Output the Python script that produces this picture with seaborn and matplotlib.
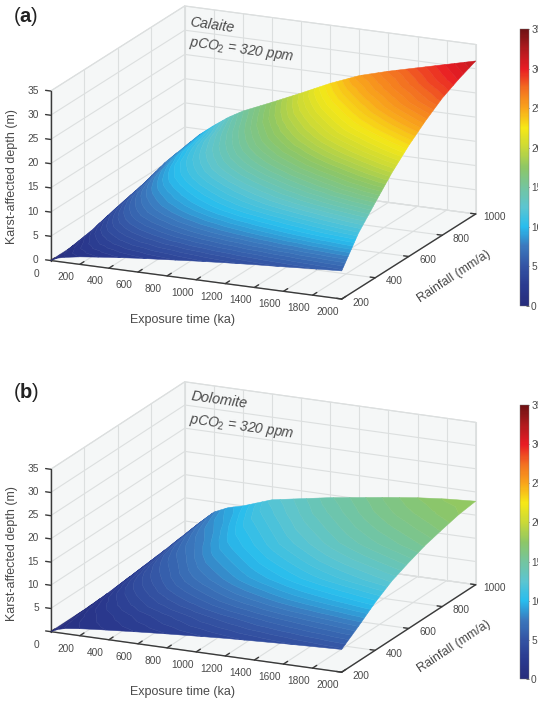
import matplotlib
matplotlib.use('Agg')
import numpy as np
import matplotlib.pyplot as plt
import matplotlib.tri as mtri
import seaborn as sns
from matplotlib.cm import ScalarMappable
from matplotlib.colors import Normalize
from mpl_toolkits.mplot3d import proj3d
from mpl_toolkits.mplot3d.art3d import Poly3DCollection

# axes values
exposure = [0, 50, 100, 200, 300, 400, 600, 800, 1000, 1200, 1400, 1600, 1800, 2000]
rainfall = [200, 300, 400, 500, 600, 700, 800, 900, 1000]
x_ticks = [0, 200, 400, 600, 800, 1000, 1200, 1400, 1600, 1800, 2000]
y_ticks = [200, 400, 600, 800, 1000]
z_ticks = [0, 5, 10, 15, 20, 25, 30, 35]
cbar_ticks = [0, 5, 10, 15, 20, 25, 30, 35]

# karst-affected depth, one row per rainfall value
calcite_depth = [
    [0, 0.7, 1.05, 1.55, 1.9, 2.25, 2.85, 3.35, 3.85, 4.3, 4.7, 5.05, 5.45, 5.8],
    [0, 1.2, 1.9, 3.0, 3.8, 4.5, 5.6, 6.6, 7.5, 8.3, 9.1, 9.9, 10.7, 11.4],
    [0, 2.0, 3.1, 4.6, 5.7, 6.6, 8.0, 9.3, 10.5, 11.6, 12.6, 13.6, 14.6, 15.5],
    [0, 3.0, 4.3, 6.0, 7.3, 8.3, 10.0, 11.5, 12.9, 14.2, 15.5, 16.8, 18.2, 19.5],
    [0, 3.9, 5.3, 7.4, 8.9, 10.1, 12.0, 13.7, 15.3, 16.8, 18.4, 19.9, 21.4, 22.9],
    [0, 4.7, 6.3, 8.7, 10.3, 11.5, 13.6, 15.6, 17.4, 19.2, 21.0, 22.6, 24.2, 25.8],
    [0, 5.6, 7.6, 9.8, 11.3, 12.6, 15.0, 17.2, 19.3, 21.3, 23.2, 25.0, 26.7, 28.3],
    [0, 6.0, 8.2, 10.4, 12.1, 13.7, 16.3, 18.8, 21.2, 23.4, 25.3, 27.0, 28.6, 30.1],
    [0, 6.5, 8.8, 11.1, 13.2, 14.9, 17.5, 20.2, 23.0, 25.4, 27.1, 28.6, 30.1, 31.6],
]
dolomite_depth = [
    [0, 0.7, 1.1, 1.5, 1.8, 2.05, 2.55, 3.0, 3.4, 3.8, 4.1, 4.4, 4.65, 4.9],
    [0, 0.9, 1.4, 2.0, 2.45, 2.85, 3.6, 4.31, 5.03, 5.61, 6.19, 6.64, 7.07, 7.5],
    [0, 1.15, 1.9, 2.83, 3.51, 4.1, 5.19, 6.14, 7.09, 7.85, 8.6, 9.19, 9.74, 10.3],
    [0, 1.54, 2.51, 3.79, 4.64, 5.33, 6.7, 7.8, 8.88, 9.77, 10.63, 11.33, 11.97, 12.6],
    [0, 1.89, 3.04, 4.64, 5.62, 6.36, 7.95, 9.1, 10.25, 11.19, 12.11, 12.87, 13.53, 14.2],
    [0, 2.25, 3.57, 5.49, 6.6, 7.38, 9.16, 10.36, 11.53, 12.5, 13.45, 14.24, 14.93, 15.6],
    [0, 2.57, 4.07, 6.27, 7.47, 8.28, 10.21, 11.39, 12.57, 13.53, 14.48, 15.27, 15.94, 16.6],
    [0, 2.89, 4.55, 7.05, 8.37, 9.17, 11.24, 12.41, 13.55, 14.49, 15.42, 16.22, 16.87, 17.5],
    [0, 3.2, 5.0, 7.8, 9.2, 10.0, 12.2, 13.3, 14.4, 15.3, 16.2, 17.0, 17.6, 18.0],
]

sns.set_theme(style='white')
plt.rcParams['font.family'] = ['Liberation Sans', 'DejaVu Sans']
plt.rcParams['mathtext.fontset'] = 'custom'
plt.rcParams['mathtext.rm'] = 'Liberation Sans'
plt.rcParams['mathtext.it'] = 'Liberation Sans:italic'
plt.rcParams['mathtext.bf'] = 'Liberation Sans:bold'

TEXT = '#4a4a4a'
AXIS = '#3a3a3a'
GRID = '#dcdfdf'
PANE = '#f5f7f7'

# one colour every 2.5 m, 0 to 35
cmap = sns.blend_palette(['#272c7c', '#2a3a8f', '#3454a4', '#3b78bd', '#28bdee', '#5cc5d0',
                          '#74c59e', '#8dc666', '#c9d938', '#f6e816', '#f9a51b', '#f36f21',
                          '#e91c24', '#b01a1e', '#6e1214'], n_colors=256, as_cmap=True)
norm = Normalize(0, 35)

W, H = 538, 701
fig = plt.figure(figsize=(W / 100, H / 100), dpi=100)


def px_text(x, y, s, **kw):
    kw.setdefault('color', TEXT)
    kw.setdefault('ha', 'center')
    kw.setdefault('va', 'center')
    return fig.text(x / W, 1 - y / H, s, **kw)


def panel(depth, center_y, box, view, mineral, mineral_x, tag, ys):
    side = 0.9707 * np.linalg.norm(box)
    left = 263.2 - 0.5135 * side
    bottom = H - center_y - 0.5135 * side
    rect = [left / W, bottom / H, side / W, side / H]
    ax = fig.add_axes(rect, projection='3d', computed_zorder=False)
    ax.set_proj_type('ortho')
    ax.view_init(elev=view[0], azim=view[1])
    ax.set_box_aspect(box)
    ax.set_xlim(0, 2000)
    ax.set_ylim(200, 1000)
    ax.set_zlim(0, 35)
    ax.set_axis_off()
    ax.patch.set_alpha(0)

    # walls
    walls = [
        [(0, 200, 0), (2000, 200, 0), (2000, 1000, 0), (0, 1000, 0)],
        [(0, 1000, 0), (2000, 1000, 0), (2000, 1000, 35), (0, 1000, 35)],
        [(0, 200, 0), (0, 1000, 0), (0, 1000, 35), (0, 200, 35)],
    ]
    ax.add_collection3d(Poly3DCollection(walls, facecolors=PANE, edgecolors=GRID,
                                         linewidths=0.8, zorder=1))

    grid = dict(color=GRID, lw=0.8, zorder=2)
    for x in x_ticks[1:]:
        ax.plot([x, x], [200, 1000], [0, 0], **grid)
        ax.plot([x, x], [1000, 1000], [0, 35], **grid)
    for y in y_ticks:
        ax.plot([0, 2000], [y, y], [0, 0], **grid)
        ax.plot([0, 0], [y, y], [0, 35], **grid)
    for z in z_ticks:
        ax.plot([0, 0], [200, 1000], [z, z], **grid)
        ax.plot([0, 2000], [1000, 1000], [z, z], **grid)

    # front axes and ticks
    line = dict(color=AXIS, lw=1.0, zorder=6)
    ax.plot([0, 2000], [200, 200], [0, 0], **line)
    ax.plot([2000, 2000], [200, 1000], [0, 0], **line)
    ax.plot([0, 0], [200, 200], [0, 35], **line)
    for x in x_ticks:
        ax.plot([x, x], [200, 225], [0, 0], **line)
    for y in y_ticks:
        ax.plot([2000, 1965], [y, y], [0, 0], **line)
    for z in z_ticks:
        ax.plot([0, -35], [200, 200], [z, z], **line)

    # 2D layer in the same place: contoured surface and tick labels, through the 3D projection
    layer = fig.add_axes(rect)
    layer.set_xlim(ax.viewLim.intervalx)
    layer.set_ylim(ax.viewLim.intervaly)
    layer.set_axis_off()
    layer.patch.set_alpha(0)
    M = ax.get_proj()

    X, Y = np.meshgrid(exposure, rainfall)
    Z = np.array(depth, dtype=float)
    px, py, _ = proj3d.proj_transform(X.ravel(), Y.ravel(), Z.ravel(), M)
    nr, nc = Z.shape
    tris = []
    for i in range(nr - 1):
        for j in range(nc - 1):
            a, b, c, d = i * nc + j, i * nc + j + 1, (i + 1) * nc + j, (i + 1) * nc + j + 1
            tris += [[a, b, d], [a, d, c]]
    tris = np.array(tris)
    # keep the triangles that face the viewer, the folded part behind the rim is hidden
    p0, p1, p2 = tris[:, 0], tris[:, 1], tris[:, 2]
    area = (px[p1] - px[p0]) * (py[p2] - py[p0]) - (px[p2] - px[p0]) * (py[p1] - py[p0])
    tris = tris[area > 0]
    cs = layer.tricontourf(mtri.Triangulation(px, py, tris), Z.ravel(),
                           levels=np.arange(0, 35.5, 0.5), cmap=cmap, norm=norm, antialiased=True)
    cs.set_edgecolor('face')
    cs.set_linewidth(0.35)

    def tick_label(x, y, z, s, dx, dy_, ha='center'):
        tx, ty, _ = proj3d.proj_transform(x, y, z, M)
        layer.annotate(s, (tx, ty), xytext=(dx * 0.72, -dy_ * 0.72), textcoords='offset points',
                       fontsize=7.3, color=TEXT, ha=ha, va='center')

    for x in x_ticks:
        tick_label(x, 200, 0, str(x), -14, 13)
    for y in y_ticks:
        tick_label(2000, y, 0, str(y), 19, 3.5)
    for z in z_ticks:
        if z == 0 and tag == 'b':
            continue
        tick_label(0, 200, z, str(z), -12, -0.5, ha='right')

    px_text(182, ys['time'], 'Exposure time (ka)', fontsize=9)
    px_text(454, ys['rain'], 'Rainfall (mm/a)', fontsize=9, rotation=33.5)
    px_text(12.4, ys['depth'], 'Karst-affected depth (m)', fontsize=9, rotation=90)
    px_text(mineral_x, ys['mineral'], mineral, fontsize=10.4, style='italic', rotation=-8)
    px_text(242, ys['pco'], r'$\mathit{pCO}_{\mathit{2}}$ = 320 ppm', fontsize=10,
            style='italic', rotation=-8)
    px_text(25.7, ys['tag'], '(' + r'$\mathbf{' + tag + '}$' + ')', fontsize=14.5, color='#222222')

    # colour bar
    top, low = (29, 306) if tag == 'a' else (405, 679)
    cax = fig.add_axes([520 / W, 1 - low / H, 9 / W, (low - top) / H])
    cb = fig.colorbar(ScalarMappable(norm=norm, cmap=cmap), cax=cax, ticks=cbar_ticks)
    cb.outline.set_linewidth(0.3)
    cb.outline.set_edgecolor('#777777')
    cb.ax.tick_params(direction='in', length=2.5, width=0.6, color='#555555', pad=1.5,
                      labelsize=7.3, labelcolor=TEXT, right=True)
    cb.ax.minorticks_off()


panel(calcite_depth, 152.5, (320, 322.7, 177.1), (16.84, -65.46), 'Calaite', 212, 'a',
      dict(time=320, rain=277, depth=177, mineral=25, pco=50, tag=16))
panel(dolomite_depth, 527, (320.5, 319.6, 170.3), (17.55, -65.2), 'Dolomite', 219, 'b',
      dict(time=692, rain=647, depth=554, mineral=400, pco=427, tag=392))

fig.savefig('out.png', dpi=100)
